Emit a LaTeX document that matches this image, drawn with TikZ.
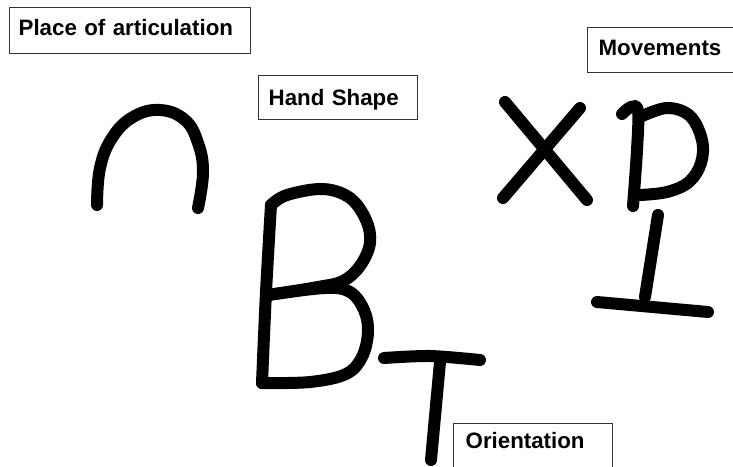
\documentclass[tikz,border=0pt]{standalone}
\usepackage{fontspec}
\setmainfont{Liberation Sans}
\begin{document}
\begin{tikzpicture}[x=1pt,y=-1pt,
  ink/.style={line width=12pt, line cap=round, line join=round, black},
  labelbox/.style={draw=black!80, line width=1.3pt, fill=white, anchor=north west,
    inner ysep=0pt, align=left, font=\fontsize{22.3}{24}\selectfont\bfseries}]
\useasboundingbox (0,0) rectangle (733,466);
% labels
\node[labelbox, inner xsep=9pt, text width=223pt, text height=28pt, text depth=18pt] (place) at (9,7) {Place of articulation};
\node[labelbox, inner xsep=10pt, text width=139pt, text height=30pt, text depth=14pt] (hand) at (258,75) {Hand Shape};
\node[labelbox, inner xsep=11pt, text width=126pt, text height=28pt, text depth=17pt] (move) at (587,27) {Movements};
\node[labelbox, inner xsep=12pt, text width=135pt, text height=25pt, text depth=30pt] (orient) at (453,423) {Orientation};
% arch
\draw[ink] plot[smooth, tension=0.7] coordinates {(97,205) (100,168) (112,138) (133,117) (160,110) (185,120) (198,143) (203,172) (198,208)};
% B
\draw[ink] plot[smooth] coordinates {(271,205) (266,292) (262,383)};
\draw[ink] plot[smooth, tension=0.6] coordinates {(271,205) (287,195) (323,189) (350,198) (366,220) (370,243) (360,266) (343,281) (318,287) (268,295)};
\draw[ink] plot[smooth, tension=0.6] coordinates {(268,295) (325,288) (350,292) (364,310) (368,332) (362,357) (346,374) (310,382) (262,383)};
% T
\draw[ink] plot[smooth] coordinates {(384,358) (430,356) (480,360)};
\draw[ink] (440,362) -- (431,460);
% X
\draw[ink] (505,102) -- (587,200);
\draw[ink] (580,108) -- (503,198);
% p
\draw[ink] plot[smooth, tension=0.6] coordinates {(622,114) (631,107) (638,111) (637,150) (633,206)};
\draw[ink] plot[smooth, tension=0.6] coordinates {(640,117) (667,108) (690,116) (702,140) (701,163) (689,182) (667,192) (640,195)};
% inverted T
\draw[ink] (658,215) -- (645,297);
\draw[ink] (597,302) -- (708,312);
\end{tikzpicture}
\end{document}
